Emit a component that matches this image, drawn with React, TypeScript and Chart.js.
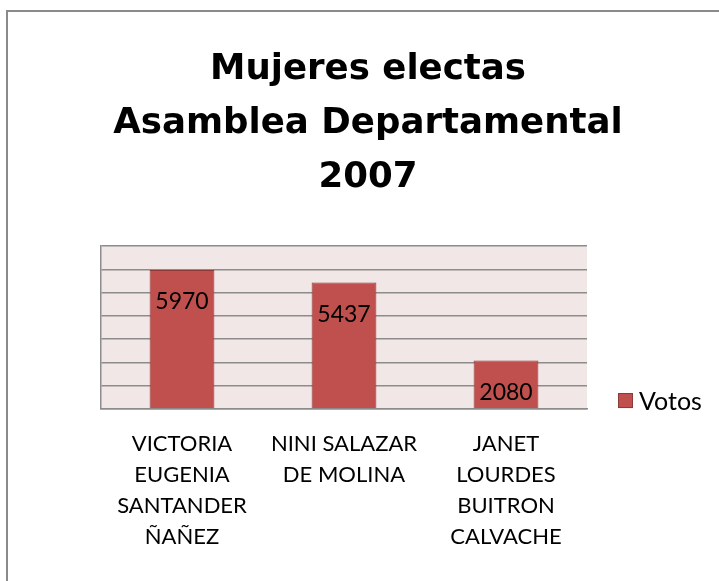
import React, { useEffect, useRef } from "react";
import { Chart, registerables } from "chart.js";

Chart.register(...registerables);

const titleLines = ["Mujeres electas", "Asamblea Departamental", "2007"];
const categories: string[][] = [
  ["VICTORIA", "EUGENIA", "SANTANDER", "ÑAÑEZ"],
  ["NINI SALAZAR", "DE MOLINA"],
  ["JANET", "LOURDES", "BUITRON", "CALVACHE"],
];
const seriesName = "Votos";
const votos = [5970, 5437, 2080];
const yMax = 7000;
const yStep = 1000;

const FONT = "Lato, 'Open Sans', sans-serif";
const TITLE_FONT = "'DejaVu Sans', Lato, sans-serif";
const BAR_COLOR = "#C0504D";
const BAR_BORDER = "#8E3A38";

const plotBg = {
  id: "plotBg",
  beforeDraw(chart: any) {
    const { ctx, chartArea } = chart;
    ctx.save();
    ctx.fillStyle = "#F2E7E7";
    ctx.fillRect(chartArea.left, chartArea.top, chartArea.right - chartArea.left, chartArea.bottom - chartArea.top);
    ctx.restore();
  },
};

const barLabels = {
  id: "barLabels",
  afterDatasetsDraw(chart: any) {
    const { ctx } = chart;
    const meta = chart.getDatasetMeta(0);
    const data = chart.data.datasets[0].data;
    ctx.save();
    ctx.fillStyle = "#000";
    ctx.font = `23px ${FONT}`;
    ctx.textAlign = "center";
    ctx.textBaseline = "middle";
    meta.data.forEach((el: any, i: number) => {
      ctx.fillText(String(data[i]), el.x, el.y + 32);
    });
    ctx.restore();
  },
};

const sideLegend = {
  id: "sideLegend",
  afterDraw(chart: any) {
    const { ctx, chartArea } = chart;
    const ds = chart.data.datasets[0];
    const box = 15;
    const x = chartArea.right + 31;
    const y = chartArea.bottom - box - 1;
    ctx.save();
    ctx.fillStyle = ds.backgroundColor;
    ctx.strokeStyle = ds.borderColor;
    ctx.lineWidth = 1;
    ctx.fillRect(x, y, box, box);
    ctx.strokeRect(x + 0.5, y + 0.5, box - 1, box - 1);
    ctx.fillStyle = "#000";
    ctx.font = `25px ${FONT}`;
    ctx.textAlign = "left";
    ctx.textBaseline = "middle";
    ctx.fillText(ds.label, x + box + 6, y + box / 2 + 1);
    ctx.restore();
  },
};

export default function App() {
  const ref = useRef<HTMLCanvasElement>(null);
  useEffect(() => {
    document.body.style.margin = "0";
    document.body.style.overflow = "hidden";
    const chart = new Chart(ref.current!, {
      type: "bar",
      data: {
        labels: categories,
        datasets: [
          {
            label: seriesName,
            data: votos,
            backgroundColor: BAR_COLOR,
            borderColor: BAR_BORDER,
            borderWidth: 1,
            categoryPercentage: 1,
            barPercentage: 0.4,
          },
        ],
      },
      options: {
        animation: false,
        responsive: false,
        maintainAspectRatio: false,
        layout: { padding: { left: 0, right: 0, top: 0, bottom: 36 } },
        plugins: {
          title: {
            display: true,
            text: titleLines,
            color: "#000",
            font: { family: TITLE_FONT, size: 35.6, weight: "bold", lineHeight: 1.517 },
            padding: { top: 30.5, bottom: 41.5 },
          },
          legend: { display: false },
          tooltip: { enabled: false },
        },
        scales: {
          x: {
            grid: { display: false, drawTicks: false },
            border: { display: true, color: "#8C8C8C", width: 1.5 },
            ticks: {
              color: "#000",
              font: { family: FONT, size: 22, lineHeight: 1.42 },
              padding: 19,
              maxRotation: 0,
              autoSkip: false,
            },
          },
          y: {
            min: 0,
            max: yMax,
            grid: { color: "#8C8C8C", lineWidth: 1.5, drawTicks: false },
            border: { display: true, color: "#8C8C8C", width: 1.5 },
            ticks: { display: false, stepSize: yStep },
            afterFit(scale: any) {
              scale.width = 93;
            },
          },
          legendSpace: {
            type: "linear",
            position: "right",
            display: true,
            grid: { display: false, drawTicks: false },
            border: { display: false },
            ticks: { display: false },
            afterFit(scale: any) {
              scale.width = 141;
            },
          },
        },
      },
      plugins: [plotBg, barLabels, sideLegend],
    });
    return () => chart.destroy();
  }, []);
  return (
    <div
      style={{
        position: "fixed",
        left: 6,
        top: 10,
        width: 724,
        height: 600,
        border: "2px solid #8A8A8A",
        background: "#fff",
        boxSizing: "border-box",
      }}
    >
      <canvas ref={ref} width={720} height={596} style={{ display: "block" }} />
    </div>
  );
}
